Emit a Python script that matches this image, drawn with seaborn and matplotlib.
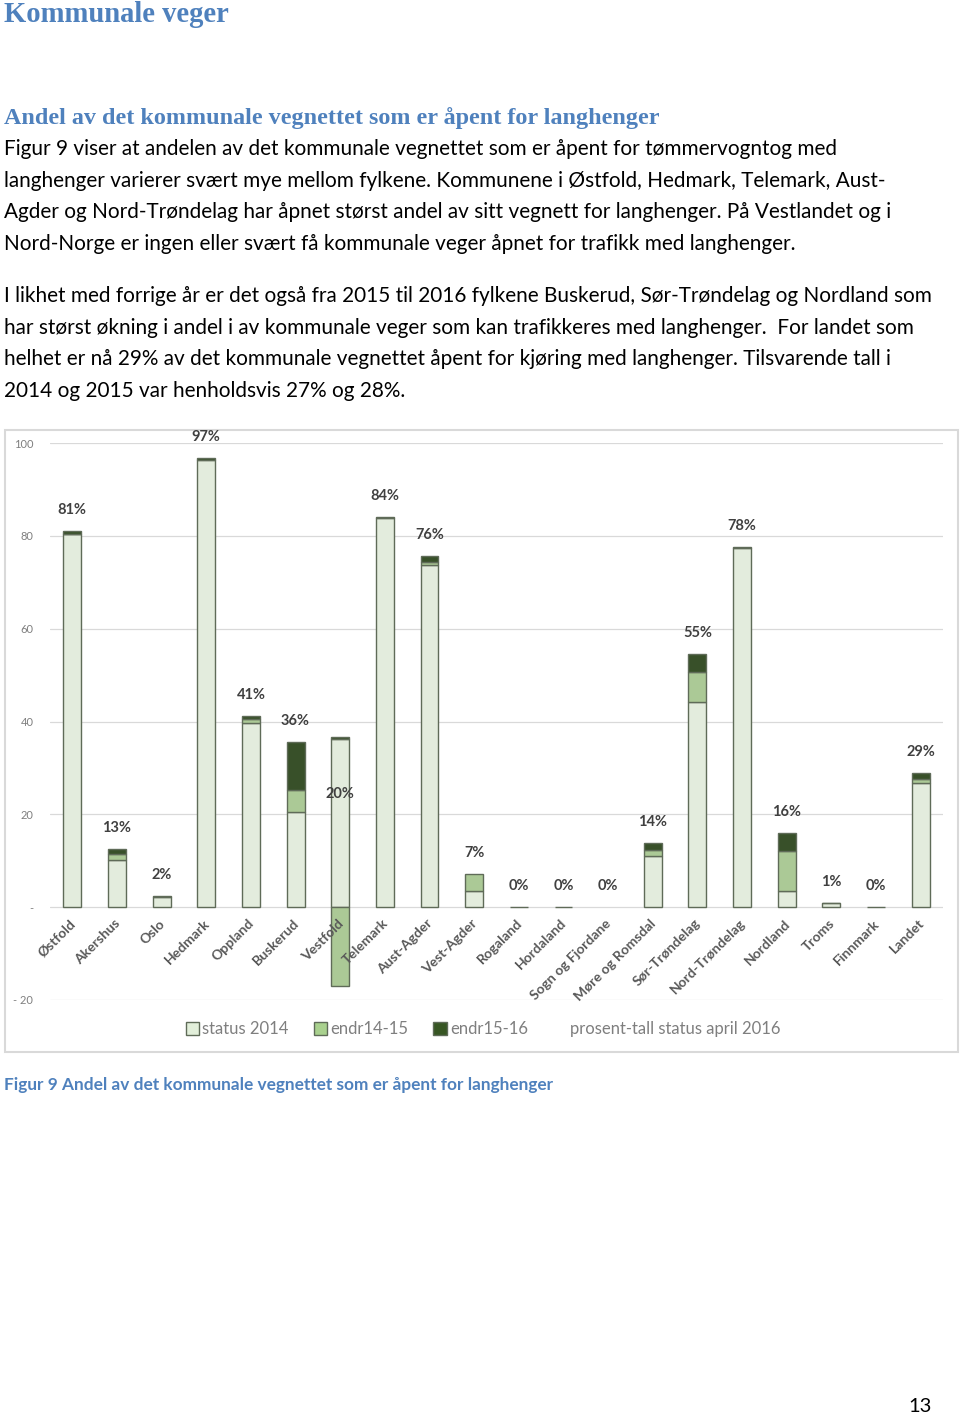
import numpy as np
import pandas as pd
import seaborn as sns
import matplotlib.pyplot as plt
from matplotlib.patches import Patch, Rectangle
from matplotlib.lines import Line2D

# Data (percent of municipal road network open for long trailers)
fylker = ["Østfold", "Akershus", "Oslo", "Hedmark", "Oppland", "Buskerud", "Vestfold",
          "Telemark", "Aust-Agder", "Vest-Agder", "Rogaland", "Hordaland", "Sogn og Fjordane",
          "Møre og Romsdal", "Sør-Trøndelag", "Nord-Trøndelag", "Nordland", "Troms",
          "Finnmark", "Landet"]
status_2014 = [80.4, 10.1, 2.2, 96.4, 39.7, 20.5, 36.2, 83.8, 73.7, 3.4,
               0.1, 0.1, 0.0, 11.1, 44.3, 77.3, 3.5, 0.8, 0.1, 26.7]
endr14_15 = [0.1, 1.4, 0.0, 0.0, 0.9, 4.7, -16.9, 0.0, 0.6, 3.7,
             0.0, 0.0, 0.0, 1.2, 6.3, 0.0, 8.6, 0.0, 0.0, 0.9]
endr15_16 = [0.5, 1.0, 0.2, 0.3, 0.6, 10.4, 0.5, 0.2, 1.4, 0.0,
             0.0, 0.0, 0.0, 1.6, 4.0, 0.3, 3.8, 0.2, 0.0, 1.4]
prosent_2016 = [81, 13, 2, 97, 41, 36, 20, 84, 76, 7, 0, 0, 0, 14, 55, 78, 16, 1, 0, 29]

yticks = [-20, 0, 20, 40, 60, 80, 100]
ytick_labels = ["- 20", "-", "20", "40", "60", "80", "100"]

c_status = "#E2EFDA"
c_e1 = "#A9D18E"
c_e2 = "#375623"
edge = "#5f6b58"
grid = "#d9d9d9"
txt = "#595959"
blue = "#4F81BD"

df = pd.DataFrame({"fylke": fylker, "status": status_2014, "e1": endr14_15, "e2": endr15_16})
# Excel-style stacking: negatives go below zero, positives on top of each other
e1_bottom = np.where(df["e1"] >= 0, df["status"], 0)
e2_bottom = df["status"] + df["e1"].clip(lower=0)
df["total"] = df["status"] + df["e1"] + df["e2"]

sns.set_style("white")
plt.rcParams['font.family'] = ['Lato', 'DejaVu Sans']
fig = plt.figure(figsize=(9.6, 14.16), dpi=100)

# Page text
fig.text(4/960, 1 - 15/1416, "Kommunale veger", family="Liberation Serif", weight="bold",
         fontsize=20.6, color=blue, va="center", ha="left")
fig.text(4/960, 1 - 118/1416, "Andel av det kommunale vegnettet som er åpent for langhenger",
         family="Liberation Serif", weight="bold", fontsize=17.4, color=blue, va="center", ha="left")
para = [
    "Figur 9 viser at andelen av det kommunale vegnettet som er åpent for tømmervogntog med",
    "langhenger varierer svært mye mellom fylkene. Kommunene i Østfold, Hedmark, Telemark, Aust-",
    "Agder og Nord-Trøndelag har åpnet størst andel av sitt vegnett for langhenger. På Vestlandet og i",
    "Nord-Norge er ingen eller svært få kommunale veger åpnet for trafikk med langhenger.",
    "I likhet med forrige år er det også fra 2015 til 2016 fylkene Buskerud, Sør-Trøndelag og Nordland som",
    "har størst økning i andel i av kommunale veger som kan trafikkeres med langhenger.  For landet som",
    "helhet er nå 29% av det kommunale vegnettet åpent for kjøring med langhenger. Tilsvarende tall i",
    "2014 og 2015 var henholdsvis 27% og 28%.",
]
line_y = [149, 181, 212, 244, 296, 328, 359, 391]
for s, y in zip(para, line_y):
    fig.text(4/960, 1 - y/1416, s, fontsize=14.95, color="black", va="center", ha="left")

fig.text(4/960, 1 - 1085/1416, "Figur 9 Andel av det kommunale vegnettet som er åpent for langhenger",
         fontsize=12.45, weight="bold", color=blue, va="center", ha="left")
fig.text(932/960, 1 - 1406/1416, "13", fontsize=14.5, color="black", va="center", ha="right")

# Chart frame (behind the axes)
fig.add_artist(Rectangle((5/960, 1 - 1052/1416), 953/960, 622/1416, transform=fig.transFigure,
                         fill=False, edgecolor=grid, lw=1.5, zorder=-1))

ax = fig.add_axes([50/960, 1 - 1000/1416, 893/960, 557/1416])
ax.set_facecolor("none")

kw = dict(order=fylker, width=0.4, edgecolor=edge, linewidth=1.0, ax=ax, zorder=3)
sns.barplot(data=df, x="fylke", y="status", color=c_status, **kw)
sns.barplot(data=df, x="fylke", y="e1", color=c_e1, bottom=e1_bottom, **kw)
sns.barplot(data=df, x="fylke", y="e2", color=c_e2, bottom=e2_bottom, **kw)
for p in ax.patches:
    if abs(p.get_height()) < 1e-9:
        p.set_linewidth(0)

ax.set_ylim(-20, 100)
ax.set_xlim(-0.5, len(fylker) - 0.5)
ax.set_yticks(yticks)
ax.set_yticklabels(ytick_labels, fontsize=8, color="#7f7f7f")
ax.tick_params(axis="y", length=0, pad=12)
ax.set_xticks([])
ax.set_xlabel("")
ax.set_ylabel("")
for y in yticks:
    ax.axhline(y, color=grid, lw=0.9, zorder=1)
for sp in ax.spines.values():
    sp.set_visible(False)

# Category labels at the zero line
for i, name in enumerate(fylker):
    ax.annotate(name, xy=(i, 0), xytext=(-3, -10), textcoords="offset pixels",
                ha="right", va="top", rotation=45, rotation_mode="anchor",
                fontsize=10, weight="bold", color=txt, zorder=5)

# Percent labels ("prosent-tall status april 2016")
for i, (tot, pct) in enumerate(zip(df["total"], prosent_2016)):
    ax.annotate(f"{pct}%", xy=(i, tot), xytext=(0, 21), textcoords="offset pixels",
                ha="center", va="center", fontsize=10.5, weight="bold", color="#404040",
                zorder=5, annotation_clip=False)

handles = [Patch(facecolor=c_status, edgecolor=edge, lw=1.0),
           Patch(facecolor=c_e1, edgecolor=edge, lw=1.0),
           Patch(facecolor=c_e2, edgecolor=edge, lw=1.0),
           Line2D([], [], lw=0)]
labels = ["status 2014", "endr14-15", "endr15-16", "prosent-tall status april 2016"]
fig.legend(handles, labels, loc="center", bbox_to_anchor=(483/960, 1 - 1029/1416), ncol=4,
           frameon=False, fontsize=12, labelcolor="#7f7f7f", handlelength=0.8,
           handleheight=0.8, handletextpad=0.2, columnspacing=1.5)

fig.savefig("out.png", dpi=100)
